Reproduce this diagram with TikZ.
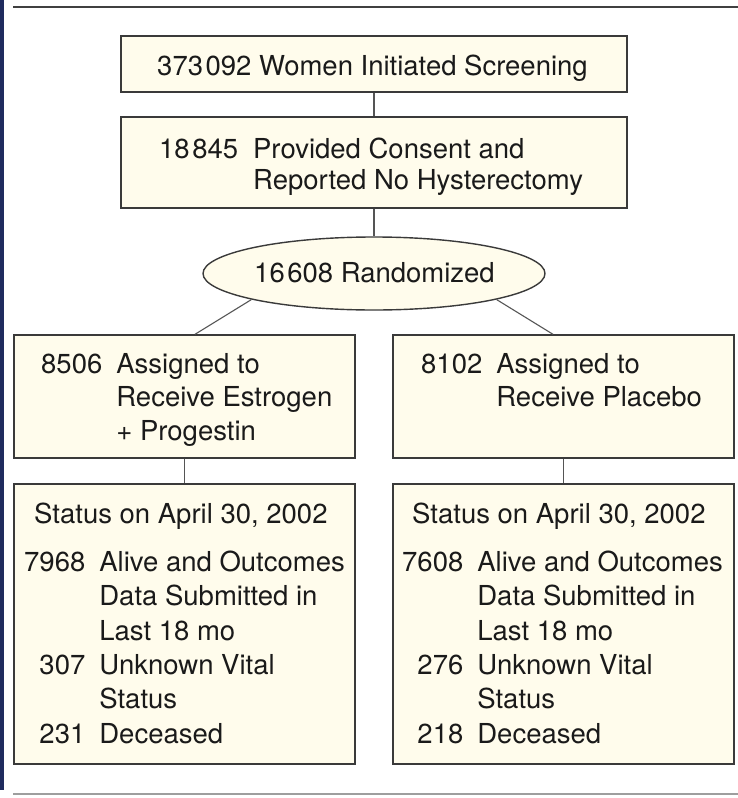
\documentclass[tikz,border=0pt]{standalone}
\usepackage{fontspec}
\setmainfont{TeX Gyre Heros}
\usetikzlibrary{shapes.geometric}
\definecolor{boxfill}{HTML}{FFFCEC}
\definecolor{boxline}{HTML}{3A3A3A}
\definecolor{connline}{HTML}{555555}
\definecolor{navy}{HTML}{1F2B5E}
\definecolor{txtcol}{HTML}{1A1A1A}
\newcommand{\tsp}{\hspace{2.5pt}}
\tikzset{
  box/.style={draw=boxline, fill=boxfill, line width=1.4pt, inner sep=0pt},
  conn/.style={draw=connline, line width=1.1pt},
  txt/.style={inner sep=0pt, text=txtcol, align=left},
}
\begin{document}
\begin{tikzpicture}[x=1pt,y=-1pt]
\useasboundingbox (0,0) rectangle (738,798);
% frame decorations
\fill[navy] (0,0) rectangle (4,790);
\draw[line width=1.6pt, draw=black!75] (13,7) -- (738,7);
\draw[line width=1.8pt, draw=black!38] (13,794) -- (738,794);

% boxes
\node[box, minimum width=506pt, minimum height=56pt] (b1) at (374,64) {};
\node[box, minimum width=506pt, minimum height=91pt] (b2) at (374,162.5) {};
\node[box, ellipse, minimum width=342pt, minimum height=73pt] (rand) at (374,273.5) {};
\node[box, minimum width=341pt, minimum height=123pt] (b3) at (184.5,396.5) {};
\node[box, minimum width=341pt, minimum height=123pt] (b4) at (563.5,396.5) {};
\node[box, minimum width=341pt, minimum height=280pt] (b5) at (184.5,624) {};
\node[box, minimum width=341pt, minimum height=280pt] (b6) at (563.5,624) {};

% connectors
\draw[conn] (b1.south) -- (b2.north);
\draw[conn] (b2.south) -- (rand.north);
\draw[conn] (rand.192) -- ([xshift=10.5pt]b3.north);
\draw[conn] (rand.348) -- ([xshift=-10.5pt]b4.north);
\draw[conn] (b3.south) -- (b5.north);
\draw[conn] (b4.south) -- (b6.north);

% texts
\node[txt, anchor=base, font=\fontsize{27.5}{31}\selectfont] (t1) at (372.5,75)
  {373\tsp092 Women Initiated Screening};
\node[txt, anchor=base west, font=\fontsize{27.5}{31}\selectfont] (t2) at (159,158)
  {\begin{tabular}[t]{@{}r@{\hspace{15pt}}l@{}}18\tsp845 & Provided Consent and\\ & Reported No Hysterectomy\end{tabular}};
\node[txt, anchor=base, font=\fontsize{27.5}{31}\selectfont] (t3) at (374.5,282)
  {16\tsp608 Randomized};
\node[txt, anchor=base west, font=\fontsize{27.5}{33.5}\selectfont] (t4) at (41,373)
  {\begin{tabular}[t]{@{}r@{\hspace{14pt}}l@{}}8506 & Assigned to\\ & Receive Estrogen\\ & + Progestin\end{tabular}};
\node[txt, anchor=base west, font=\fontsize{27.5}{33.5}\selectfont] (t5) at (421,373)
  {\begin{tabular}[t]{@{}r@{\hspace{14pt}}l@{}}8102 & Assigned to\\ & Receive Placebo\end{tabular}};
\node[txt, anchor=base west, font=\fontsize{27.5}{34.3}\selectfont] (t6h) at (34,523)
  {Status on April 30, 2002};
\node[txt, anchor=base west, font=\fontsize{27.5}{34.3}\selectfont] (t6) at (24,571.5)
  {\begin{tabular}[t]{@{}r@{\hspace{14pt}}l@{}}7968 & Alive and Outcomes\\ & Data Submitted in\\ & Last 18 mo\\ 307 & Unknown Vital\\ & Status\\ 231 & Deceased\end{tabular}};
\node[txt, anchor=base west, font=\fontsize{27.5}{34.3}\selectfont] (t7h) at (412,523)
  {Status on April 30, 2002};
\node[txt, anchor=base west, font=\fontsize{27.5}{34.3}\selectfont] (t7) at (402,571.5)
  {\begin{tabular}[t]{@{}r@{\hspace{14pt}}l@{}}7608 & Alive and Outcomes\\ & Data Submitted in\\ & Last 18 mo\\ 276 & Unknown Vital\\ & Status\\ 218 & Deceased\end{tabular}};
\end{tikzpicture}
\end{document}
